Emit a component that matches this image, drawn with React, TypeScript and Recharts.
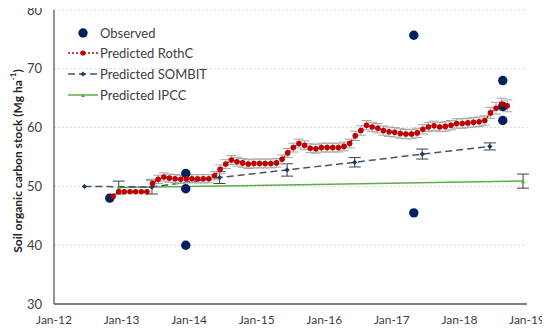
import React from 'react';
import { ComposedChart, Line, Scatter, XAxis, YAxis, CartesianGrid, ErrorBar } from 'recharts';

const xTicks = [0, 12, 24, 36, 48, 60, 72, 84];
const xTickLabels = ['Jan-12', 'Jan-13', 'Jan-14', 'Jan-15', 'Jan-16', 'Jan-17', 'Jan-18', 'Jan-19'];
const yTicks = [30, 40, 50, 60, 70, 80];

// months counted from Jan-2012
const observedMonths = [9.9, 23.4, 23.4, 23.4, 63.9, 63.9, 79.7, 79.7, 79.7];
const observedValues = [48.0, 52.2, 49.6, 40.0, 75.7, 45.5, 68.0, 63.6, 61.2];

const rothcMonths = [
  10, 11, 12, 13, 14, 15, 16, 17, 18, 19, 20, 21, 22, 23, 24, 25, 26, 27, 28, 29,
  30, 31, 32, 33, 34, 35, 36, 37, 38, 39, 40, 41, 42, 43, 44, 45, 46, 47, 48, 49,
  50, 51, 52, 53, 54, 55, 56, 57, 58, 59, 60, 61, 62, 63, 64, 65, 66, 67, 68, 69,
  70, 71, 72, 73, 74, 75, 76, 77, 78, 79, 80,
];
const rothcValues = [
  48.3, 49.1, 49.1, 49.1, 49.1, 49.1, 49.1, 50.5, 51.2, 51.6, 51.4, 51.3, 51.2, 51.3, 51.3, 51.3, 51.3, 51.3, 51.8, 52.9,
  53.8, 54.5, 54.2, 54.0, 53.8, 53.9, 53.9, 53.9, 53.9, 54.0, 54.6, 55.7, 56.6, 57.3, 57.0, 56.5, 56.4, 56.6, 56.6, 56.6,
  56.6, 56.8, 57.3, 58.6, 59.5, 60.4, 60.1, 59.9, 59.5, 59.3, 59.2, 59.0, 58.9, 58.9, 59.1, 59.7, 60.1, 60.3, 60.1, 60.2,
  60.4, 60.7, 60.7, 60.8, 60.9, 61.0, 61.2, 62.5, 63.3, 64.0, 63.7,
];
const rothcErrors = [
  0, 0, 0, 0, 0, 0, 0, 0.7, 0.7, 0.7, 0.7, 0.7, 0.7, 0.7, 0.7, 0.7, 0.7, 0.7, 0.7, 0.75,
  0.75, 0.75, 0.75, 0.75, 0.75, 0.75, 0.75, 0.75, 0.75, 0.75, 0.75, 0.75, 0.75, 0.75, 0.75, 0.75, 0.75, 0.75, 0.75, 0.75,
  0.75, 0.75, 0.75, 0.8, 0.8, 0.8, 0.8, 0.8, 0.8, 0.8, 0.8, 0.8, 0.8, 0.8, 0.8, 0.8, 0.8, 0.8, 0.8, 0.8,
  0.8, 0.8, 0.8, 0.8, 0.8, 0.8, 0.8, 0.9, 1.0, 1.0, 1.0,
];

const sombitMonths = [5.4, 17.4, 29.4, 41.4, 53.4, 65.4, 77.4];
const sombitValues = [50.0, 49.9, 51.5, 52.8, 54.1, 55.5, 56.8];
const sombitErrors = [0, 1.2, 1.0, 1.05, 0.8, 0.85, 0.6];

const ipccMonths = [11.5, 83.3];
const ipccValues = [49.8, 50.9];
const ipccErrors = [1.1, 1.2];

const observedData = observedMonths.map((x, i) => ({ x, y: observedValues[i] }));
const rothcData = rothcMonths.map((m, i) => ({ x: m + 0.5, y: rothcValues[i], e: rothcErrors[i] }));
const sombitData = sombitMonths.map((x, i) => ({ x, y: sombitValues[i], e: sombitErrors[i] }));
const ipccData = ipccMonths.map((x, i) => ({ x, y: ipccValues[i], e: ipccErrors[i] }));

const FONT = 'Lato, "Liberation Sans", sans-serif';
const RED = '#C00000';
const NAVY = '#002060';
const SOMBIT = '#44546A';
const SOMBIT_MARK = '#1F3864';
const GREEN = '#5AAE47';
const AXIS = '#595959';

const rothcDot = (p: any) => {
  const { cx, cy, index } = p;
  if (cx == null || cy == null) return <g key={`rd${index}`} />;
  return <circle key={`rd${index}`} cx={cx} cy={cy} r={2.8} fill={RED} stroke="none" />;
};

const sombitDot = (p: any) => {
  const { cx, cy, index } = p;
  if (cx == null || cy == null) return <g key={`sd${index}`} />;
  const s = 2.6;
  return (
    <path
      key={`sd${index}`}
      d={`M${cx},${cy - s} L${cx + s},${cy} L${cx},${cy + s} L${cx - s},${cy} Z`}
      fill={SOMBIT_MARK}
    />
  );
};

const ipccDot = (p: any) => {
  const { cx, cy, index } = p;
  if (cx == null || cy == null) return <g key={`id${index}`} />;
  const s = 2.2;
  return (
    <path key={`id${index}`} d={`M${cx},${cy - s} L${cx + s},${cy + s} L${cx - s},${cy + s} Z`} fill={GREEN} />
  );
};

const obsShape = (p: any) => <circle cx={p.cx} cy={p.cy} r={4.7} fill={NAVY} />;

const YLabel = () => (
  <text
    x={17}
    y={161}
    transform="rotate(-90 17 161)"
    textAnchor="middle"
    dominantBaseline="central"
    fontFamily={FONT}
    fontWeight={700}
    fontSize={12}
    fill="#262626"
  >
    Soil organic carbon stock (Mg ha
    <tspan fontSize={8} dy={-4}>
      -1
    </tspan>
    <tspan dy={4}>)</tspan>
  </text>
);

const Legend = () => (
  <svg
    width={220}
    height={110}
    style={{ position: 'absolute', left: 0, top: 0, pointerEvents: 'none' }}
  >
    <circle cx={83} cy={33} r={4.7} fill={NAVY} />
    <text x={100} y={33} dominantBaseline="central" fontFamily={FONT} fontSize={13} fill="#404040">
      Observed
    </text>
    <line x1={68} y1={53} x2={98} y2={53} stroke={RED} strokeWidth={1.5} strokeDasharray="2 2" />
    <circle cx={83} cy={53} r={2.6} fill={RED} />
    <text x={100} y={53} dominantBaseline="central" fontFamily={FONT} fontSize={13} fill="#404040">
      Predicted RothC
    </text>
    <line x1={68} y1={74} x2={98} y2={74} stroke={SOMBIT} strokeWidth={1.5} strokeDasharray="7 4" />
    <path d="M83,71.5 L85.5,74 L83,76.5 L80.5,74 Z" fill={SOMBIT_MARK} />
    <text x={100} y={74} dominantBaseline="central" fontFamily={FONT} fontSize={13} fill="#404040">
      Predicted SOMBIT
    </text>
    <line x1={68} y1={95} x2={98} y2={95} stroke={GREEN} strokeWidth={1.5} />
    <path d="M83,93 L85,97 L81,97 Z" fill={GREEN} />
    <text x={100} y={95} dominantBaseline="central" fontFamily={FONT} fontSize={13} fill="#404040">
      Predicted IPCC
    </text>
  </svg>
);

export default function App() {
  return (
    <div style={{ position: 'relative', width: 550, height: 330, margin: '-8px 0 0 -8px', background: '#fff' }}>
      <ComposedChart width={550} height={330} margin={{ top: 10, right: 23, bottom: 0, left: 0 }}>
        <CartesianGrid vertical={false} stroke="#D9D9D9" strokeDasharray="2 2" />
        <XAxis
          type="number"
          dataKey="x"
          domain={[0, 84]}
          ticks={xTicks}
          tickFormatter={(v: number) => xTickLabels[Math.round(v / 12)]}
          allowDataOverflow
          height={26}
          tickLine={false}
          tickSize={0}
          tickMargin={11}
          axisLine={{ stroke: AXIS, strokeWidth: 1.3 }}
          tick={{ fontFamily: FONT, fontSize: 12, fill: '#404040' }}
          interval={0}
        />
        <YAxis
          type="number"
          dataKey="y"
          domain={[30, 80]}
          ticks={yTicks}
          width={54}
          tickLine={false}
          tickSize={0}
          tickMargin={12}
          axisLine={{ stroke: AXIS, strokeWidth: 1.3 }}
          tick={{ fontFamily: FONT, fontSize: 13, fill: '#404040' }}
          label={<YLabel />}
          interval={0}
        />
        <Line
          data={ipccData}
          dataKey="y"
          stroke={GREEN}
          strokeWidth={1.5}
          dot={ipccDot}
          activeDot={false}
          isAnimationActive={false}
        >
          <ErrorBar dataKey="e" width={6} stroke="#404040" strokeWidth={1} direction="y" />
        </Line>
        <Line
          data={sombitData}
          dataKey="y"
          stroke={SOMBIT}
          strokeWidth={1.5}
          strokeDasharray="7 4"
          dot={sombitDot}
          activeDot={false}
          isAnimationActive={false}
        >
          <ErrorBar dataKey="e" width={6} stroke="#404040" strokeWidth={1} direction="y" />
        </Line>
        <Line
          data={rothcData}
          dataKey="y"
          stroke={RED}
          strokeWidth={1.5}
          strokeDasharray="2 2"
          dot={rothcDot}
          activeDot={false}
          isAnimationActive={false}
        >
          <ErrorBar dataKey="e" width={5} stroke="#A6A6A6" strokeWidth={1} direction="y" />
        </Line>
        <Scatter data={observedData} dataKey="y" shape={obsShape} isAnimationActive={false} />
      </ComposedChart>
      <Legend />
    </div>
  );
}
